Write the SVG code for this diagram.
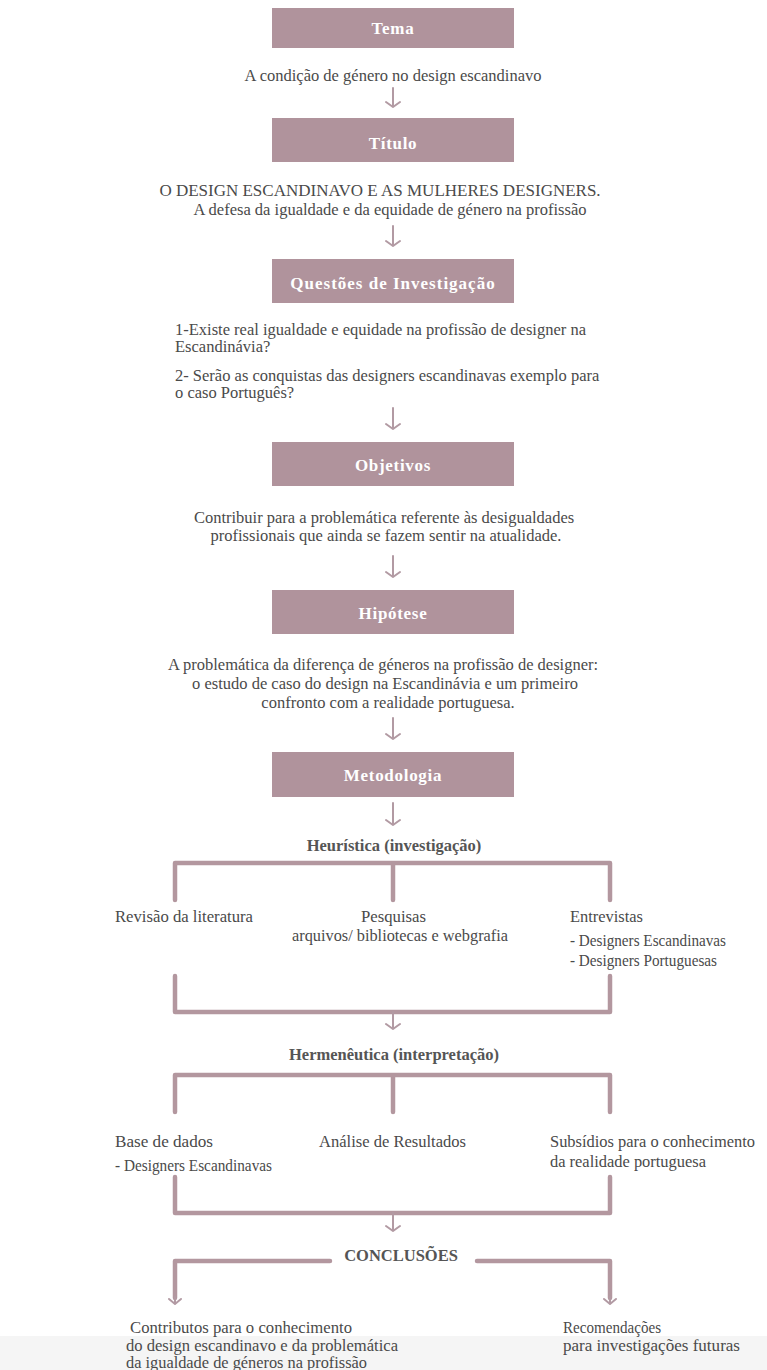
<svg xmlns="http://www.w3.org/2000/svg" width="767" height="1370" viewBox="0 0 767 1370">
<defs>
<style>
.box{fill:#b0939c}
.bt{font-weight:bold;font-size:17px;fill:#ffffff;text-anchor:middle;letter-spacing:0.7px}
.t{font-size:16.5px;fill:#4a4a4a}
.s{font-size:17px;fill:#4a4a4a}
.b{font-size:16px;fill:#4a4a4a}
.c{text-anchor:middle}
.h{font-weight:bold;font-size:16.5px;fill:#555555;text-anchor:middle}
.ar{fill:none;stroke:#b29aa3;stroke-width:2;stroke-linecap:round;stroke-linejoin:round}
.br{fill:none;stroke:#b3979f;stroke-width:4.5;stroke-linecap:round;stroke-linejoin:round}
</style>
</defs>
<rect x="0" y="0" width="767" height="1370" fill="#ffffff"/>
<rect x="0" y="1336" width="767" height="34" fill="#f5f5f5"/>

<g font-family="Liberation Serif, Times New Roman, serif">
<g id="tema"><rect class="box" x="272" y="8" width="242" height="40"/><text class="bt" x="393" y="34">Tema</text></g>
<g id="tema-txt"><text class="t c" x="393" y="81">A condição de género no design escandinavo</text></g>

<g id="titulo"><rect class="box" x="272" y="118" width="242" height="44"/><text class="bt" x="393" y="149">Título</text></g>
<g id="titulo-txt"><text class="t c" x="380" y="196" style="font-size:17px">O DESIGN ESCANDINAVO E AS MULHERES DESIGNERS.</text><text class="t c" x="390" y="215">A defesa da igualdade e da equidade de género na profissão</text></g>

<g id="questoes"><rect class="box" x="272" y="259" width="242" height="44"/><text class="bt" x="393" y="289" style="letter-spacing:1px">Questões de Investigação</text></g>
<g id="questoes-txt">
<text class="t" x="175" y="335">1-Existe real igualdade e equidade na profissão de designer na</text>
<text class="t" x="175" y="352">Escandinávia?</text>
<text class="t" x="175" y="381">2- Serão as conquistas das designers escandinavas exemplo para</text>
<text class="t" x="175" y="398">o caso Português?</text>
</g>

<g id="objetivos"><rect class="box" x="272" y="442" width="242" height="44"/><text class="bt" x="393" y="471">Objetivos</text></g>
<g id="objetivos-txt"><text class="t c" x="384" y="523">Contribuir para a problemática referente às desigualdades</text><text class="t c" x="386" y="541">profissionais que ainda se fazem sentir na atualidade.</text></g>

<g id="hipotese"><rect class="box" x="272" y="590" width="242" height="44"/><text class="bt" x="393" y="619">Hipótese</text></g>
<g id="hipotese-txt"><text class="t c" x="383" y="670">A problemática da diferença de géneros na profissão de designer:</text><text class="t c" x="385" y="689">o estudo de caso do design na Escandinávia e um primeiro</text><text class="t c" x="388" y="708">confronto com a realidade portuguesa.</text></g>

<g id="metodologia"><rect class="box" x="272" y="752" width="242" height="45"/><text class="bt" x="393" y="781">Metodologia</text></g>

<g id="heuristica"><text class="h" x="394" y="851">Heurística (investigação)</text></g>
<g id="revisao"><text class="s" x="115" y="922" textLength="138" lengthAdjust="spacingAndGlyphs">Revisão da literatura</text></g>
<g id="pesquisas"><text class="s" x="361" y="922" textLength="65" lengthAdjust="spacingAndGlyphs">Pesquisas</text><text class="s" x="292" y="941" textLength="216" lengthAdjust="spacingAndGlyphs">arquivos/ bibliotecas e webgrafia</text></g>
<g id="entrevistas"><text class="s" x="570" y="922" textLength="73" lengthAdjust="spacingAndGlyphs">Entrevistas</text><text class="s" x="570" y="946" textLength="156" lengthAdjust="spacingAndGlyphs">- Designers Escandinavas</text><text class="s" x="570" y="966" textLength="147" lengthAdjust="spacingAndGlyphs">- Designers Portuguesas</text></g>

<g id="hermeneutica"><text class="h" x="394" y="1060">Hermenêutica (interpretação)</text></g>
<g id="base"><text class="s" x="115" y="1147" textLength="98" lengthAdjust="spacingAndGlyphs">Base de dados</text><text class="s" x="115" y="1171" textLength="157" lengthAdjust="spacingAndGlyphs">- Designers Escandinavas</text></g>
<g id="analise"><text class="s" x="319" y="1147" textLength="147" lengthAdjust="spacingAndGlyphs">Análise de Resultados</text></g>
<g id="subsidios"><text class="s" x="550" y="1147" textLength="205" lengthAdjust="spacingAndGlyphs">Subsídios para o conhecimento</text><text class="s" x="550" y="1167" textLength="156" lengthAdjust="spacingAndGlyphs">da realidade portuguesa</text></g>

<g id="conclusoes"><text class="h" x="401" y="1261">CONCLUSÕES</text></g>
<g id="contributos"><text class="b" x="130" y="1333" textLength="222" lengthAdjust="spacingAndGlyphs">Contributos para o conhecimento</text><text class="b" x="126" y="1351" textLength="272" lengthAdjust="spacingAndGlyphs">do design escandinavo e da problemática</text><text class="b" x="126" y="1368" textLength="241" lengthAdjust="spacingAndGlyphs">da igualdade de géneros na profissão</text></g>
<g id="recomendacoes"><text class="b" x="563" y="1333" textLength="98" lengthAdjust="spacingAndGlyphs">Recomendações</text><text class="b" x="563" y="1351" textLength="177" lengthAdjust="spacingAndGlyphs">para investigações futuras</text></g>
</g>

<g id="connectors">
<path class="ar" d="M393 88V107M386 102L393 107L400 102"/>
<path class="ar" d="M393 226V246M386 241L393 246L400 241"/>
<path class="ar" d="M393 408V429M386 424L393 429L400 424"/>
<path class="ar" d="M393 556V577M386 572L393 577L400 572"/>
<path class="ar" d="M393 718V739M386 734L393 739L400 734"/>
<path class="ar" d="M393 803V825M386 820L393 825L400 820"/>
<path class="br" d="M175 900V863H610V900M393 863V900"/>
<path class="br" d="M175 976V1012H610V976"/>
<path class="ar" d="M393 1012V1029M386 1024L393 1029L400 1024"/>
<path class="br" d="M175 1112V1075H610V1112M393 1075V1112"/>
<path class="br" d="M175 1177V1213H610V1177"/>
<path class="ar" d="M393 1213V1231M386 1226L393 1231L400 1226"/>
<path class="br" d="M330 1261H175V1298"/>
<path class="br" d="M477 1261H610V1298"/>
<path class="ar" d="M175 1297V1303M169 1299L175 1304L181 1299"/>
<path class="ar" d="M610 1297V1303M604 1299L610 1304L616 1299"/>
</g>
</svg>
